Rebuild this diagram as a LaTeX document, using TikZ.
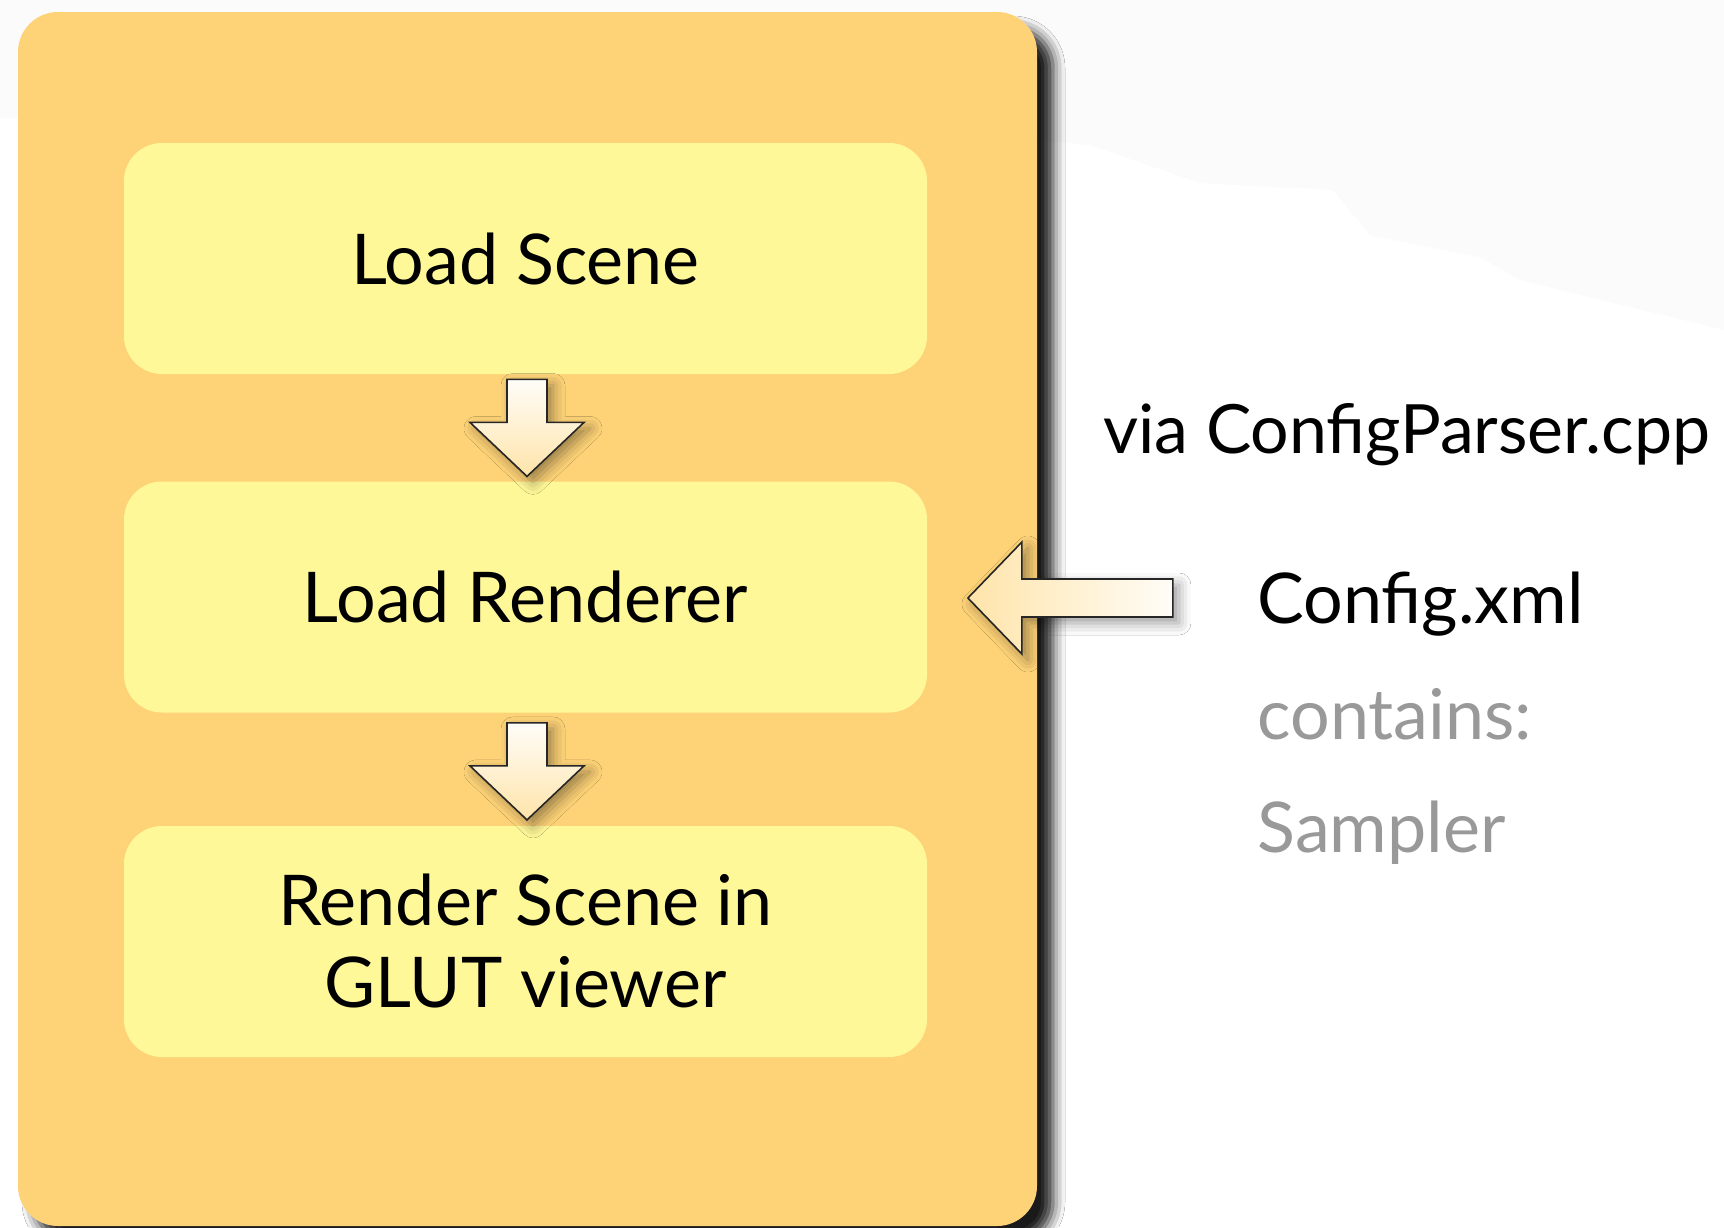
\documentclass[tikz,border=0pt]{standalone}
\usepackage{fontspec}
\setmainfont{Lato}
\usetikzlibrary{shadows.blur}
\definecolor{panel}{HTML}{FED378}
\definecolor{stepfill}{HTML}{FFF899}
\definecolor{arrowwarm}{HTML}{FFE4AA}
\definecolor{arrowlight}{HTML}{FFFDF8}
\definecolor{note}{HTML}{999999}
\definecolor{haze}{HTML}{FBFBFB}
\tikzset{
  panelbox/.style={fill=panel, rounded corners=20pt, minimum width=509.5pt, minimum height=607pt,
    blur shadow={shadow xshift=8pt, shadow yshift=-8pt, shadow blur radius=6pt, shadow opacity=90}},
  stepbox/.style={fill=stepfill, rounded corners=19pt, minimum width=401.5pt, minimum height=115.5pt,
    align=center, font=\fontsize{35}{41}\selectfont},
  blockarrow/.style={draw=black!85, line width=0.8pt, line join=miter,
    blur shadow={shadow xshift=3pt, shadow yshift=-3pt, shadow blur radius=6pt, shadow opacity=40}},
  downfill/.style={top color=arrowlight, bottom color=arrowwarm},
  sidefill/.style={left color=arrowwarm, right color=arrowlight},
  label/.style={anchor=base west, inner sep=0pt, font=\fontsize{35}{41}\selectfont},
}
\begin{document}
\begin{tikzpicture}[x=0.5pt, y=-0.5pt]
  % page frame
  \useasboundingbox (0,0) rectangle (1724,1227);
  \fill[white] (0,0) rectangle (1724,1227);
  % faint haze across the top
  \fill[haze] (0,0) -- (1724,0) -- (1724,330) -- (1520,280) -- (1480,257) -- (1370,235)
    -- (1333,190) -- (1200,183) -- (1090,145) -- (1040,140) -- (0,118) -- cycle;

  % outer panel
  \begin{scope}
    \clip (0,0) rectangle (1724,1227);
    \node[panelbox] (panel) at (527.5,619) {};
  \end{scope}

  % the three steps
  \node[stepbox] (scene)    at (525.5,258.5) {Load Scene};
  \node[stepbox] (renderer) at (525.5,597)   {Load Renderer};
  \node[stepbox] (render)   at (525.5,941.5) {Render Scene in\\GLUT viewer};

  % block arrows between the steps
  \coordinate (d1) at ($(scene.south)+(1.5,5)$);
  \coordinate (d2) at ($(renderer.south)+(1.5,10)$);
  \foreach \c in {d1,d2}
    \draw[blockarrow, downfill] (\c) ++(-20,0) -- ++(40,0) -- ++(0,43) -- ++(37,0)
      -- ++(-57,54) -- ++(-57,-54) -- ++(37,0) -- cycle;

  % configuration input
  \node[label, font=\fontsize{34}{41}\selectfont] (via) at (1103,453) {via ConfigParser.cpp};
  \node[label] (cfg)  at (1257,623) {Config.xml};
  \node[label, text=note] (cont) at (1257,739) {contains:};
  \node[label, text=note] (samp) at (1257,852) {Sampler};

  \coordinate (s0) at ($(renderer.east)+(245.5,1.5)$);
  \draw[blockarrow, sidefill] (s0) ++(0,-19.5) -- ++(-151,0) -- ++(0,-37) -- ++(-54,56)
    -- ++(54,56) -- ++(0,-37) -- ++(151,0) -- cycle;
\end{tikzpicture}
\end{document}
